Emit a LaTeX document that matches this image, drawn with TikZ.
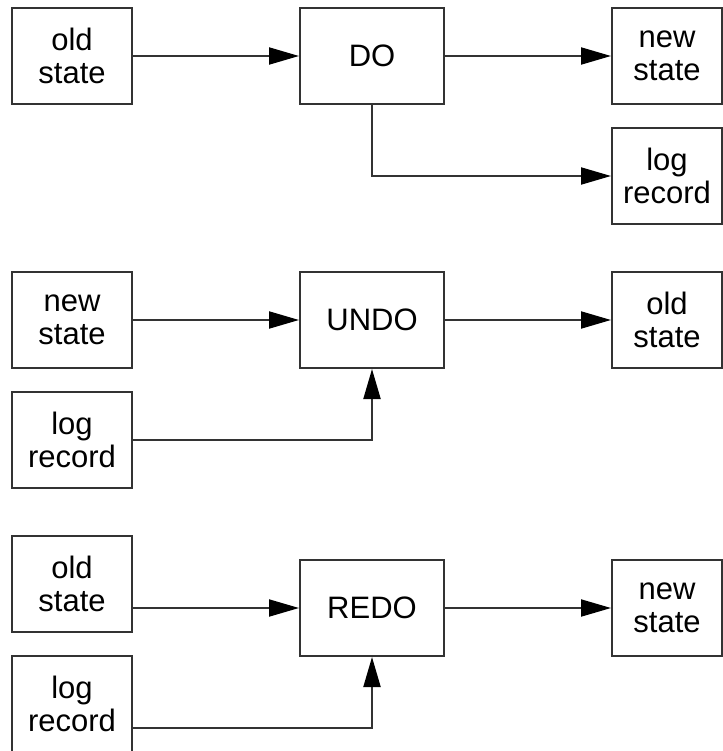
\documentclass[tikz,border=0pt]{standalone}
\usepackage{fontspec}
\setmainfont{Liberation Sans}
\usetikzlibrary{arrows.meta}

\tikzset{
  box/.style={draw=black!80, line width=2pt, minimum width=120pt, minimum height=96pt,
    inner sep=0pt, align=center, font=\fontsize{31}{33}\selectfont},
  procbox/.style={box, minimum width=144pt},
  rbox/.style={box, minimum width=110pt},
  flow/.style={draw=black!80, line width=2pt, -{Triangle[length=30pt, width=17pt, color=black]}}
}

\begin{document}
\begin{tikzpicture}[x=1pt, y=1pt, yscale=-1, xscale=1]
\useasboundingbox (0,0) rectangle (722,751);
%DO
\node (old1) at (72,56) [box] {old\\state};
\node (do) at (372,56) [procbox] {DO};
\node (new1) at (667,56) [rbox] {new\\state};
\node (log1) at (667,176) [rbox] {log\\record};
\draw [flow] (old1) -- (do);
\draw [flow] (do) -- (new1);
\draw [flow] (do.south) |- (log1.west);
%UNDO
\node (new2) at (72,320) [box] {new\\state};
\node (log2) at (72,440) [box] {log\\record};
\node (undo) at (372,320) [procbox] {UNDO};
\node (old2) at (667,320) [rbox] {old\\state};
\draw [flow] (new2) -- (undo);
\draw [flow] (undo) -- (old2);
\draw [flow] (log2.east) -| (undo.south);
%REDO
\node (old3) at (72,584) [box] {old\\state};
\node (log3) at (72,704) [box] {log\\record};
\node (redo) at (372,608) [procbox] {REDO};
\node (new3) at (667,608) [rbox] {new\\state};
\coordinate (rin) at (0,728);
\draw [flow] (old3.east |- redo.west) -- (redo.west);
\draw [flow] (redo) -- (new3);
\draw [flow] (log3.east |- rin) -| (redo.south);
\end{tikzpicture}
\end{document}
